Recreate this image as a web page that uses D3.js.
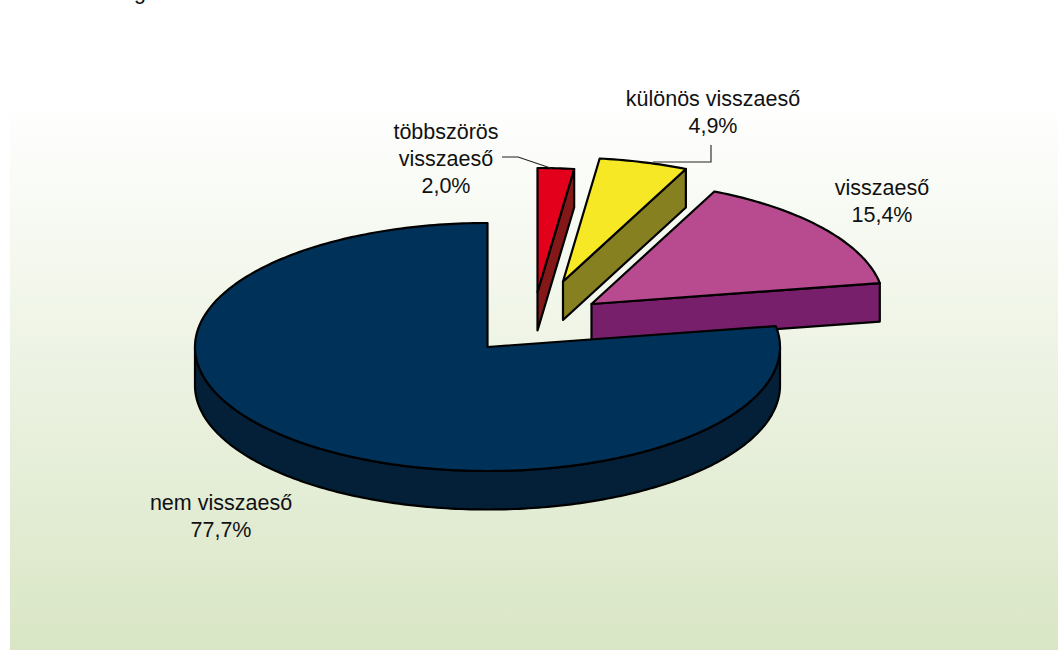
<!DOCTYPE html>
<html><head><meta charset="utf-8">
<script src="https://cdn.jsdelivr.net/npm/d3@7/dist/d3.min.js"></script>
<style>html,body{margin:0;padding:0;background:#fff}svg{display:block}text{font-family:"Liberation Sans",Arial,sans-serif;font-size:21.5px;fill:#111}</style>
</head><body><svg id="c" width="1058" height="650"></svg>
<script>
const categories = ["többszörös visszaeső","különös visszaeső","visszaeső","nem visszaeső"];
const values = [2.0,4.9,15.4,77.7];
const valueLabels = ["2,0%","4,9%","15,4%","77,7%"];
const topColors = ["#E3001B","#F7E825","#B84A8F","#003259"];
const sideColors = ["#841818","#878020","#771F6B","#032038"];
const explodeX = [50,75.5,104,0];
const explodeY = [-55,-65.5,-43,0];
const labelLines = [["többszörös","visszaeső","2,0%"],["különös visszaeső","4,9%"],["visszaeső","15,4%"],["nem visszaeső","77,7%"]];
const labelX = [446,713,882,221];
const labelY = [139,106,195,510];

const svg = d3.select("#c");
const defs = svg.append("defs");
const grad = defs.append("linearGradient").attr("id","bg").attr("x1",0).attr("y1",0).attr("x2",0).attr("y2",1);
grad.append("stop").attr("offset",0).attr("stop-color","#ffffff");
grad.append("stop").attr("offset",1).attr("stop-color","#D9E6C5");
svg.append("rect").attr("x",10).attr("y",100).attr("width",1048).attr("height",550).attr("fill","url(#bg)");
svg.append("text").attr("x",134).attr("y",-1.5).text("g");

const cx=487.5, cy=347, rx=292.5, ry=124, depth=38.5;
const px = d3.scaleLinear().domain([-1,1]).range([cx-rx,cx+rx]);
const py = d3.scaleLinear().domain([-1,1]).range([cy-ry,cy+ry]);
const pt = (a,i,dz=0)=>[px(Math.sin(a))+explodeX[i], py(-Math.cos(a))+explodeY[i]+dz];
const apex = (i,dz=0)=>[px(0)+explodeX[i], py(0)+explodeY[i]+dz];
const line = d3.line();
const arcPts = (a0,a1,i,dz=0)=>{const n=Math.max(2,Math.ceil(Math.abs(a1-a0)*60));
  return d3.range(n+1).map(k=>pt(a0+(a1-a0)*k/n,i,dz));};
const arcs = d3.pie().sort(null)(values);
const style = (s,fill)=>s.attr("fill",fill).attr("stroke","#000").attr("stroke-width",2.2).attr("stroke-linejoin","round");

// exploded slices back to front: magenta first
[2,1,0,3].forEach(i=>{
  const {startAngle:a0,endAngle:a1}=arcs[i];
  const g=svg.append("g");
  if(i<3){
    style(g.append("path").attr("d",line([pt(a1,i),apex(i),apex(i,depth),pt(a1,i,depth)])+"Z"),sideColors[i]);
    style(g.append("path").attr("d",line([apex(i),...arcPts(a0,a1,i)])+"Z"),topColors[i]);
  } else {
    const w0=Math.PI/2,w1=Math.PI*1.5;
    style(g.append("path").attr("d",line([...arcPts(w0,w1,i),...arcPts(w1,w0,i,depth)])+"Z"),sideColors[i]);
    style(g.append("path").attr("d",line([apex(i),...arcPts(a0,a1,i)])+"Z"),topColors[i]);
  }
});

// leader lines
const leaderA=[[502,157],[518,157],[552,168.5]];
const leaderB=[[711,145],[711,162],[653,162]];
[leaderA,leaderB].forEach(l=>svg.append("path").attr("d",line(l)).attr("fill","none").attr("stroke","#222").attr("stroke-width",1.1));

// labels
labelLines.forEach((ls,i)=>{
  ls.forEach((t,k)=>svg.append("text").attr("x",labelX[i]).attr("y",labelY[i]+k*27).attr("text-anchor","middle").text(t));
});
</script></body></html>
